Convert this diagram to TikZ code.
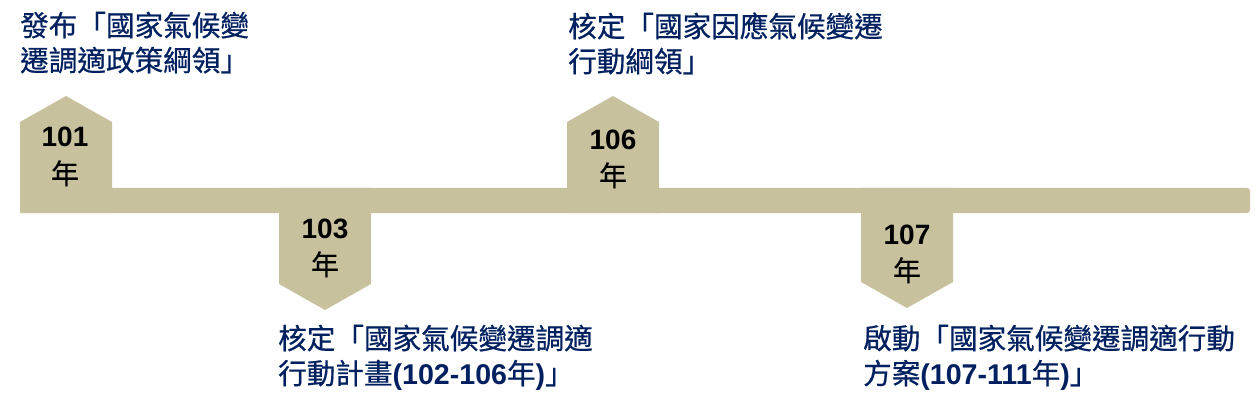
\documentclass[tikz,border=0pt]{standalone}
\usepackage{fontspec}
\setmainfont{Noto Sans CJK TC}[FakeBold=0.6]
\newfontfamily\arialfont{Liberation Sans}
\usepackage{tikz}

\definecolor{khaki}{RGB}{199,193,158}
\definecolor{navyblue}{RGB}{0,32,96}
\newcommand{\yrnum}[1]{{\arialfont\bfseries #1}}

\begin{document}
\begin{tikzpicture}[x=1pt,y=-1pt,
  yearlbl/.style={align=center,font=\fontsize{28}{37}\selectfont,inner sep=0pt,anchor=base},
  desc/.style={align=left,font=\fontsize{28.6}{35}\selectfont,text=navyblue,inner sep=0pt,anchor=base west}]
\useasboundingbox (0,0) rectangle (1259,409);
% timeline bar
\fill [khaki, rounded corners=3pt] (20,188) rectangle (1250,213);
% markers, up and down
\fill [khaki] (20,213) -- (20,122) -- (66,96) -- (112,122) -- (112,213) -- cycle;
\fill [khaki] (279,188) -- (279,284) -- (325,310) -- (371,284) -- (371,188) -- cycle;
\fill [khaki] (567,213) -- (567,122) -- (613,96) -- (659,122) -- (659,213) -- cycle;
\fill [khaki] (861,188) -- (861,282) -- (907,308) -- (953,282) -- (953,188) -- cycle;
% years (base = last line)
\node [yearlbl] (y101) at (65,184) {\yrnum{101}\\年};
\node [yearlbl] (y103) at (325,275) {\yrnum{103}\\年};
\node [yearlbl] (y106) at (613,186) {\yrnum{106}\\年};
\node [yearlbl] (y107) at (907,281) {\yrnum{107}\\年};
% events
\node [desc] (e101) at (20,71) {發布「國家氣候變\\遷調適政策綱領」};
\node [desc] (e103) at (278,384) {核定「國家氣候變遷調適\\行動計畫\yrnum{(102-106}年\yrnum{)}」};
\node [desc] (e106) at (568,72) {核定「國家因應氣候變遷\\行動綱領」};
\node [desc] (e107) at (863,384) {啟動「國家氣候變遷調適行動\\方案\yrnum{(107-111}年\yrnum{)}」};
\end{tikzpicture}
\end{document}
